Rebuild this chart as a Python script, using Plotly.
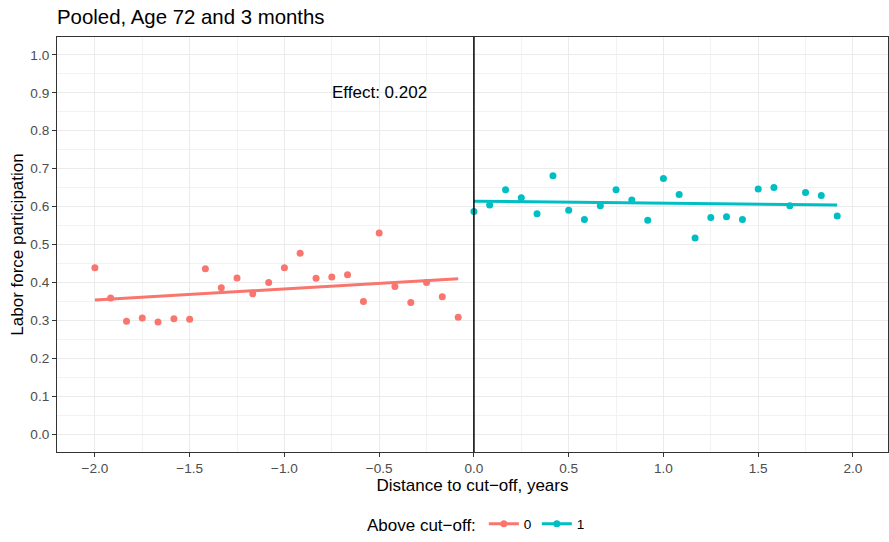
import numpy as np
import plotly.graph_objects as go

# Monthly bins of distance to the cut-off (years)
x_below = [-2.0, -1.917, -1.833, -1.75, -1.667, -1.583, -1.5, -1.417, -1.333, -1.25, -1.167, -1.083,
           -1.0, -0.917, -0.833, -0.75, -0.667, -0.583, -0.5, -0.417, -0.333, -0.25, -0.167, -0.083]
y_below = [0.439, 0.359, 0.298, 0.306, 0.296, 0.304, 0.303, 0.436, 0.386, 0.412, 0.370, 0.400,
           0.439, 0.477, 0.411, 0.414, 0.420, 0.350, 0.530, 0.389, 0.347, 0.400, 0.362, 0.308]

x_above = [0.0, 0.083, 0.167, 0.25, 0.333, 0.417, 0.5, 0.583, 0.667, 0.75, 0.833, 0.917,
           1.0, 1.083, 1.167, 1.25, 1.333, 1.417, 1.5, 1.583, 1.667, 1.75, 1.833, 1.917]
y_above = [0.587, 0.604, 0.644, 0.623, 0.581, 0.681, 0.590, 0.566, 0.602, 0.644, 0.617, 0.564,
           0.674, 0.632, 0.517, 0.571, 0.573, 0.566, 0.646, 0.650, 0.602, 0.637, 0.629, 0.575]

# Estimated linear fits on each side of the cut-off: value at the cut-off and slope per year
fit_below = dict(intercept=0.412, slope=0.029)
fit_above = dict(intercept=0.614, slope=-0.005)

effect = fit_above["intercept"] - fit_below["intercept"]
effect_label = f"Effect: {effect:.3f}"
col0, col1 = "#F8766D", "#00BFC4"
font = "Liberation Sans, Arial, sans-serif"
base = 17


def fit_line(x, fit):
    xs = np.array([min(x), max(x)])
    return xs, fit["intercept"] + fit["slope"] * xs


fig = go.Figure()
for xs, ys, fit, col in [(x_below, y_below, fit_below, col0), (x_above, y_above, fit_above, col1)]:
    fx, fy = fit_line(xs, fit)
    fig.add_trace(go.Scatter(x=xs, y=ys, mode="markers", showlegend=False,
                             marker=dict(color=col, size=7), hoverinfo="skip"))
    fig.add_trace(go.Scatter(x=fx, y=fy, mode="lines", showlegend=False,
                             line=dict(color=col, width=3), hoverinfo="skip"))

# legend keys
for name, col in [("0", col0), ("1", col1)]:
    fig.add_trace(go.Scatter(x=[None], y=[None], mode="lines+markers", name=name,
                             line=dict(color=col, width=3), marker=dict(color=col, size=7)))

fig.add_vline(x=0, line=dict(color="black", width=1.5))
fig.add_annotation(x=-0.5, y=0.9, text=effect_label, showarrow=False,
                   font=dict(size=base, color="black", family=font))

axis_common = dict(showline=True, mirror=True, linecolor="#333333", linewidth=1,
                   ticks="outside", ticklen=4, tickcolor="#333333",
                   tickfont=dict(size=base * 0.8, color="#4D4D4D", family=font),
                   showgrid=True, gridcolor="#EBEBEB", gridwidth=1.1, zeroline=False,
                   automargin=False)

fig.update_xaxes(range=[-2.2, 2.185], tickmode="array",
                 tickvals=[-2, -1.5, -1, -0.5, 0, 0.5, 1, 1.5, 2],
                 ticktext=["\u22122.0", "\u22121.5", "\u22121.0", "\u22120.5", "0.0", "0.5", "1.0", "1.5", "2.0"],
                 minor=dict(dtick=0.25, tick0=0, showgrid=True, gridcolor="#F2F2F2", gridwidth=0.6, ticks=""),
                 title=dict(text="Distance to cut\u2212off, years", font=dict(size=base, color="black", family=font),
                            standoff=2),
                 **axis_common)
fig.update_yaxes(range=[-0.047, 1.047], tickmode="array",
                 tickvals=[i / 10 for i in range(11)],
                 ticktext=[f"{i / 10:.1f}" for i in range(11)],
                 minor=dict(dtick=0.05, tick0=0, showgrid=True, gridcolor="#F2F2F2", gridwidth=0.6, ticks=""),
                 title=dict(text="Labor force participation", font=dict(size=base, color="black", family=font),
                            standoff=2),
                 **axis_common)

fig.update_layout(
    width=889, height=542,
    margin=dict(l=57, r=1, t=37, b=90, autoexpand=False),
    paper_bgcolor="white", plot_bgcolor="white",
    title=dict(text="Pooled, Age 72 and 3 months", x=57 / 889, xanchor="left",
               y=1 - 17 / 542, yanchor="middle", font=dict(size=base * 1.2, color="black", family=font)),
    legend=dict(orientation="h", x=0.506, xanchor="center", yref="container", y=17 / 542, yanchor="middle",
                title=dict(text="Above cut\u2212off:", font=dict(size=base, color="black", family=font)),
                font=dict(size=base * 0.8, color="black", family=font)),
    showlegend=True,
)

fig.write_html("out.html")
